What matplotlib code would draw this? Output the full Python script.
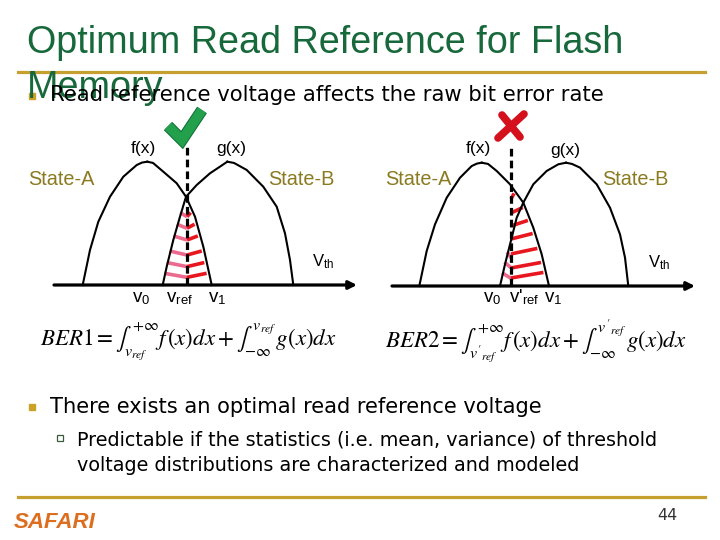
import numpy as np
import matplotlib
matplotlib.use("Agg")
import matplotlib.pyplot as plt
import matplotlib.patheffects as pe

plt.rcParams['mathtext.fontset'] = 'stix'

# ---- slide text ----
title_1 = "Optimum Read Reference for Flash"
title_2 = "Memory"
bullet_1 = "Read reference voltage affects the raw bit error rate"
bullet_2 = "There exists an optimal read reference voltage"
sub_1 = "Predictable if the statistics (i.e. mean, variance) of threshold"
sub_2 = "voltage distributions are characterized and modeled"
page_no = "44"

# ---- diagram data (Vth in arbitrary units, density normalised to peak) ----
# left panel: optimal read reference
f1_v = [0.287, 0.36, 0.443, 0.56, 0.693, 0.827, 0.88, 0.933, 0.99, 1.093, 1.227, 1.32, 1.41, 1.493, 1.577]
f1_y = [0.0, 0.284, 0.513, 0.716, 0.878, 0.973, 0.993, 1.0, 0.99, 0.919, 0.825, 0.716, 0.554, 0.311, 0.0]
g1_v = [1.087, 1.127, 1.193, 1.26, 1.32, 1.427, 1.56, 1.66, 1.733, 1.80, 1.927, 2.093, 2.227, 2.31, 2.36, 2.393]
g1_y = [0.0, 0.148, 0.365, 0.554, 0.716, 0.811, 0.906, 0.96, 1.0, 0.99, 0.933, 0.797, 0.635, 0.419, 0.203, 0.0]
vref_1 = 1.33
pink_lv_1 = [0.554, 0.46, 0.365, 0.243, 0.149, 0.062]
red_lv_1 = [0.554, 0.46, 0.365, 0.243, 0.149, 0.062]

# right panel: shifted read reference
f2_v = [0.273, 0.347, 0.43, 0.547, 0.68, 0.797, 0.85, 0.897, 0.96, 1.047, 1.18, 1.313, 1.413, 1.497, 1.57]
f2_y = [0.0, 0.284, 0.5, 0.716, 0.878, 0.973, 0.993, 1.0, 0.99, 0.933, 0.825, 0.676, 0.473, 0.257, 0.0]
g2_v = [1.08, 1.13, 1.197, 1.247, 1.313, 1.413, 1.547, 1.663, 1.74, 1.80, 1.88, 2.047, 2.18, 2.28, 2.33, 2.363]
g2_y = [0.0, 0.176, 0.392, 0.554, 0.676, 0.825, 0.933, 0.987, 1.0, 0.99, 0.96, 0.825, 0.635, 0.419, 0.23, 0.0]
vref_2 = 1.19
pink_lv_2 = [0.23, 0.148, 0.062]
red_lv_2 = [0.706, 0.592, 0.487, 0.381, 0.26, 0.146, 0.065]

GREEN = '#17693b'
GOLD = '#c6a02e'
OLIVE = '#8a7a20'
RED = '#e8171f'
PINK = '#ec6a8e'

fig = plt.figure(figsize=(7.2, 5.4), dpi=100)
ov = fig.add_axes([0, 0, 1, 1])
ov.set_xlim(0, 720)
ov.set_ylim(540, 0)
ov.axis('off')

# title and rules
ov.text(27, 53, title_1, fontsize=27.2, color=GREEN, family='Liberation Sans', va='baseline')
ov.text(27, 98, title_2, fontsize=27.2, color=GREEN, family='Liberation Sans', va='baseline')
ov.plot([18, 705], [72, 72], color=GOLD, lw=2.3)
ov.plot([18, 705], [497, 497], color=GOLD, lw=2.3)

# bullets
ov.plot([31.5], [96], marker='s', ms=5, color='#c9a227', mec='#c9a227')
ov.text(50, 101, bullet_1, fontsize=15.2, family='DejaVu Sans', va='baseline')
ov.plot([31.5], [407], marker='s', ms=5, color='#c9a227', mec='#c9a227')
ov.text(50, 413, bullet_2, fontsize=15.1, family='DejaVu Sans', va='baseline')
ov.plot([60], [437.5], marker='s', ms=4.5, mfc='white', mec='#3c5a3c', mew=0.9)
ov.text(77, 445, sub_1, fontsize=13.8, family='DejaVu Sans', va='baseline')
ov.text(77, 471, sub_2, fontsize=13.8, family='DejaVu Sans', va='baseline')

# footer
ov.text(14, 528, "SAFARI", fontsize=16, color='#dd6d1f', family='Liberation Sans',
        weight='bold', style='italic', va='baseline')
ov.text(677, 520, page_no, fontsize=11.5, color='#333333', family='DejaVu Sans',
        ha='right', va='baseline')

# formulas
ber1 = r'$BER1=\int_{v_{ref}}^{+\infty}f\,(x)dx+\int_{-\infty}^{v_{ref}}\,g(x)dx$'
ber2 = r"$BER2=\int_{v'_{ref}}^{+\infty}f\,(x)dx+\int_{-\infty}^{v'_{ref}}\,g(x)dx$"
ov.text(40, 341, ber1, fontsize=16.5, va='center')
ov.text(385, 341, ber2, fontsize=16.5, va='center')


def panel(x0px, base_px, f_v, f_y, g_v, g_y, vref, pink_lv, red_lv, rise):
    # axes mapped so 1 unit of v = 100 px, 1 unit of density = 123.3 px
    left_px, right_px = x0px - 14, x0px + 316
    top_px, bot_px = base_px - 155, base_px + 15
    ax = fig.add_axes([left_px / 720, (540 - bot_px) / 540,
                       (right_px - left_px) / 720, (bot_px - top_px) / 540])
    ax.set_xlim(-0.14, 3.16)
    ax.set_ylim(-15 / 123.3, 155 / 123.3)
    ax.axis('off')

    f_v = np.array(f_v); f_y = np.array(f_y)
    g_v = np.array(g_v); g_y = np.array(g_y)
    pf = int(np.argmax(f_y)); pg = int(np.argmax(g_y))
    # falling side of f and rising side of g for the hatch ends
    fr_v, fr_y = f_v[pf:][::-1], f_y[pf:][::-1]
    gl_v, gl_y = g_v[:pg + 1], g_y[:pg + 1]

    for h in pink_lv:
        x_l = np.interp(h + rise, gl_y, gl_v) - 0.01
        ax.plot([x_l, vref], [h + rise, h], color=PINK, lw=2.6, solid_capstyle='butt', zorder=2)
    for h in red_lv:
        x_r = np.interp(h + rise, fr_y, fr_v) - 0.025
        ax.plot([vref, x_r], [h, h + rise], color=RED, lw=2.6, solid_capstyle='butt', zorder=2)

    ax.plot(f_v[:pf + 1], f_y[:pf + 1], color='black', lw=1.5, zorder=3)
    ax.plot(f_v[pf:], f_y[pf:], color='black', lw=1.5, zorder=3)
    ax.plot(g_v[:pg + 1], g_y[:pg + 1], color='black', lw=1.5, zorder=3)
    ax.plot(g_v[pg:], g_y[pg:], color='black', lw=1.5, zorder=3)

    ax.plot([vref, vref], [0, 1.125], color='black', lw=2.3, ls=(0, (2.4, 1.3)), zorder=4)
    ax.annotate('', xy=(3.03, 0), xytext=(0, 0),
                arrowprops=dict(arrowstyle='-|>', lw=2.3, color='black', mutation_scale=12,
                                shrinkA=0, shrinkB=0), zorder=5)
    return ax


panel(54, 285, f1_v, f1_y, g1_v, g1_y, vref_1, pink_lv_1, red_lv_1, 0.033)
panel(392, 286, f2_v, f2_y, g2_v, g2_y, vref_2, pink_lv_2, red_lv_2, 0.045)

# diagram labels (pixel positions)
lab = dict(family='Liberation Sans', va='baseline')
ov.text(143, 153, "f(x)", fontsize=12.5, ha='center', **lab)
ov.text(231, 153, "g(x)", fontsize=12.5, ha='center', **lab)
ov.text(478, 153, "f(x)", fontsize=12.5, ha='center', **lab)
ov.text(565, 155, "g(x)", fontsize=12.5, ha='center', **lab)
ov.text(28, 185, "State-A", fontsize=14.3, color=OLIVE, **lab)
ov.text(268, 185, "State-B", fontsize=14.3, color=OLIVE, **lab)
ov.text(385, 185, "State-A", fontsize=14.3, color=OLIVE, **lab)
ov.text(602, 185, "State-B", fontsize=14.3, color=OLIVE, **lab)
ov.text(312, 267, r"V$_{\mathregular{th}}$", fontsize=12, **lab)
ov.text(648, 268, r"V$_{\mathregular{th}}$", fontsize=12, **lab)
ov.text(132, 302, r"v$_{\mathregular{0}}$", fontsize=13.5, **lab)
ov.text(166, 302, r"v$_{\mathregular{ref}}$", fontsize=13.5, **lab)
ov.text(208, 302, r"v$_{\mathregular{1}}$", fontsize=13.5, **lab)
ov.text(483, 302, r"v$_{\mathregular{0}}$", fontsize=13.5, **lab)
ov.text(509, 302, r"v'$_{\mathregular{ref}}$", fontsize=13.5, **lab)
ov.text(544, 302, r"v$_{\mathregular{1}}$", fontsize=13.5, **lab)

# check mark and cross
ov.plot([168, 182, 202], [126, 140, 110], color='#22a04c', lw=7, solid_joinstyle='miter',
        solid_capstyle='butt',
        path_effects=[pe.Stroke(linewidth=8.5, foreground='#12703a'), pe.Normal()])
ov.plot([502, 520], [115, 137], color='#d3101c', lw=5.5, solid_capstyle='round')
ov.plot([524, 498], [114, 138], color='#d3101c', lw=5.5, solid_capstyle='round')

fig.savefig('out.png', dpi=100)
